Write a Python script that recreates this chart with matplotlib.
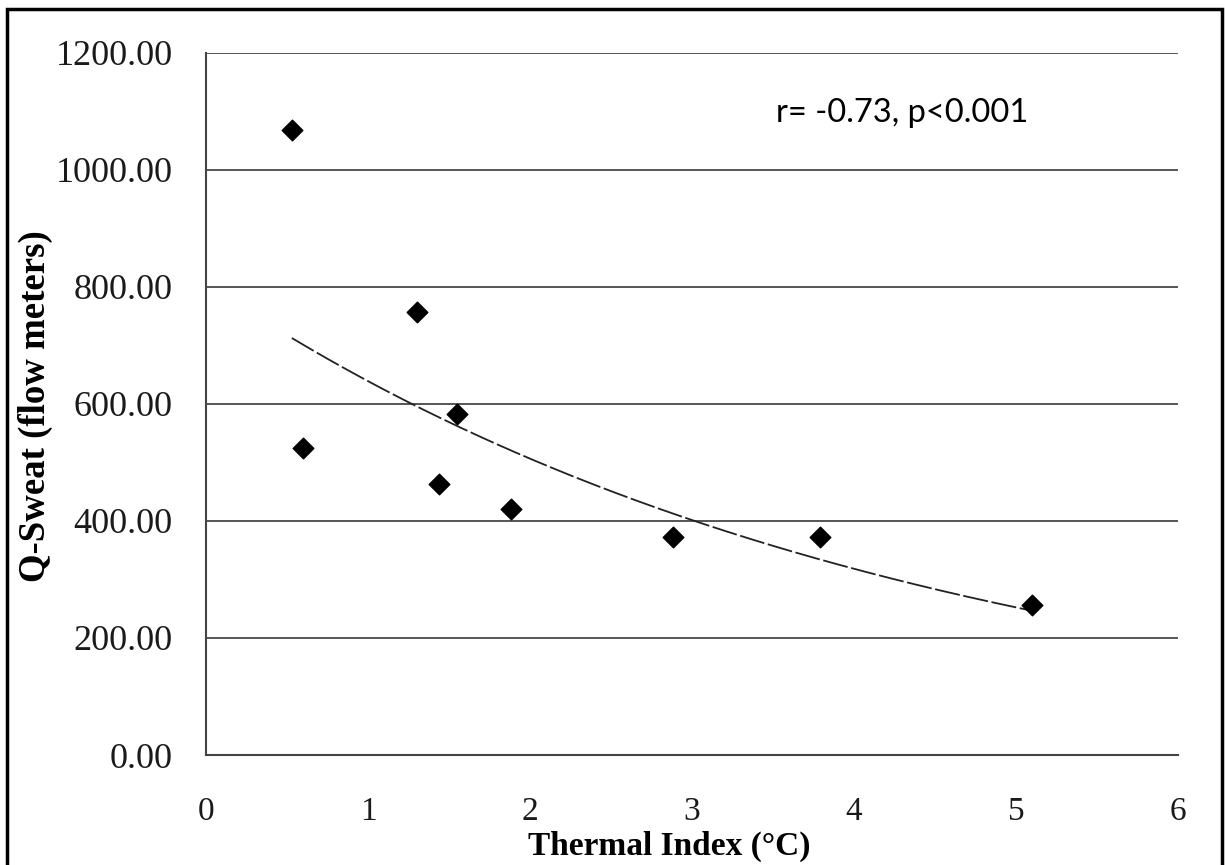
import numpy as np
import matplotlib.pyplot as plt
from matplotlib.patches import Rectangle

# thermal index (°C) and Q-Sweat values
thermal_index = [0.53, 0.60, 1.30, 1.44, 1.55, 1.88, 2.88, 3.79, 5.10]
q_sweat = [1068, 525, 757, 463, 583, 420, 373, 373, 256]
y_ticks = [0, 200, 400, 600, 800, 1000, 1200]
x_ticks = [0, 1, 2, 3, 4, 5, 6]
note = 'r= -0.73, p<0.001'

serif = ['Liberation Serif', 'DejaVu Serif']

fig = plt.figure(figsize=(12.25, 8.65), dpi=100, facecolor='w')
ax = fig.add_axes([206 / 1225, 1 - 755 / 865, (1178 - 206) / 1225, (755 - 53) / 865])

# exponential trend line, fitted on ln(y) like a spreadsheet trendline
x = np.array(thermal_index)
y = np.array(q_sweat)
b, lna = np.polyfit(x, np.log(y), 1)
xs = np.linspace(x.min(), x.max(), 200)
ax.plot(xs, np.exp(lna) * np.exp(b * xs), color='#222222', lw=1.3, dashes=(14, 2))

ax.scatter(x, y, marker='D', s=110, color='black', zorder=3)

ax.set_xlim(0, 6)
ax.set_ylim(0, 1200)
ax.set_xticks(x_ticks)
ax.set_yticks(y_ticks)
ax.set_yticklabels(['%.2f' % v for v in y_ticks], fontsize=26, family=serif, color='#1a1a1a')
ax.set_xticklabels([str(v) for v in x_ticks], fontsize=24, family=serif, color='#1a1a1a')
ax.tick_params(axis='both', length=0)
ax.tick_params(axis='y', pad=24)
ax.tick_params(axis='x', pad=30)
ax.yaxis.grid(True, color='#555555', lw=1.4)
ax.set_axisbelow(True)
for s in ['top', 'right']:
    ax.spines[s].set_visible(False)
for s in ['left', 'bottom']:
    ax.spines[s].set_color('#444444')
    ax.spines[s].set_linewidth(1.5)

ax.set_xlabel('Thermal Index (°C)', fontsize=24, fontweight='bold', family=serif)
ax.xaxis.set_label_coords(0.477, -0.108)
ax.set_ylabel('Q-Sweat (flow meters)', fontsize=26.5, fontweight='bold', family=serif)
ax.yaxis.set_label_coords(-0.157, 0.497)

ax.text(4.30, 1098, note, fontsize=23.5, family=['Lato', 'DejaVu Sans'], ha='center', va='center')

# outer frame of the chart
fig.patches.append(Rectangle((7 / 1225, -0.01), (1222 - 7) / 1225, 1.01 - 9 / 865,
                             transform=fig.transFigure, fill=False, ec='black', lw=2.5))

plt.savefig('out.png', dpi=100)
